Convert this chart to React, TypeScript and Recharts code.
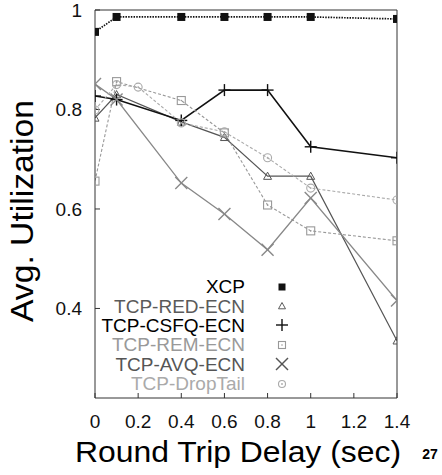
import React from 'react';
import { LineChart, Line, XAxis, YAxis, Legend } from 'recharts';

// Avg. utilization vs. round trip delay, six AQM schemes
const FONT = '"Liberation Sans", Arial, Helvetica, sans-serif';

const xTicks = [0, 0.2, 0.4, 0.6, 0.8, 1, 1.2, 1.4];
const yTicks = [0.4, 0.6, 0.8, 1];

const delays = [0, 0.1, 0.4, 0.6, 0.8, 1, 1.4];
const dropTailDelays = [0, 0.1, 0.2, 0.4, 0.6, 0.8, 1, 1.4];

const xcp = [0.956, 0.986, 0.986, 0.986, 0.986, 0.986, 0.982];
const redEcn = [0.783, 0.83, 0.775, 0.744, 0.666, 0.666, 0.335];
const csfqEcn = [0.827, 0.82, 0.778, 0.839, 0.839, 0.725, 0.703];
const remEcn = [0.656, 0.856, 0.818, 0.753, 0.608, 0.556, 0.536];
const avqEcn = [0.851, 0.82, 0.652, 0.59, 0.518, 0.622, 0.416];
const dropTail = [0.799, 0.85, 0.845, 0.773, 0.755, 0.703, 0.642, 0.618];

type Shape = 'filledSquare' | 'triangle' | 'plus' | 'square' | 'cross' | 'circle';

interface SeriesDef {
  name: string;
  xs: number[];
  ys: number[];
  stroke: string;
  width: number;
  dash?: string;
  shape: Shape;
  labelColor: string;
}

const series: SeriesDef[] = [
  { name: 'XCP', xs: delays, ys: xcp, stroke: '#111', width: 1.7, dash: '1.5 1.2', shape: 'filledSquare', labelColor: '#000' },
  { name: 'TCP-RED-ECN', xs: delays, ys: redEcn, stroke: '#555', width: 1.2, shape: 'triangle', labelColor: '#5a5a5a' },
  { name: 'TCP-CSFQ-ECN', xs: delays, ys: csfqEcn, stroke: '#111', width: 1.6, shape: 'plus', labelColor: '#000' },
  { name: 'TCP-REM-ECN', xs: delays, ys: remEcn, stroke: '#999', width: 1.1, dash: '3 2', shape: 'square', labelColor: '#999' },
  { name: 'TCP-AVQ-ECN', xs: delays, ys: avqEcn, stroke: '#888', width: 1.3, shape: 'cross', labelColor: '#555' },
  { name: 'TCP-DropTail', xs: dropTailDelays, ys: dropTail, stroke: '#aaa', width: 1.1, dash: '3 2', shape: 'circle', labelColor: '#aaa' },
];

function Marker({ shape, cx, cy, color, s }: { shape: Shape; cx: number; cy: number; color: string; s: number }) {
  const h = s / 2;
  switch (shape) {
    case 'filledSquare':
      return <rect x={cx - h} y={cy - h} width={s} height={s} fill="#111" />;
    case 'triangle':
      return (
        <polygon
          points={`${cx},${cy - h} ${cx - h},${cy + h * 0.8} ${cx + h},${cy + h * 0.8}`}
          fill="none"
          stroke={color}
          strokeWidth={1}
        />
      );
    case 'plus':
      return (
        <g stroke={color} strokeWidth={1.4}>
          <line x1={cx - h} y1={cy} x2={cx + h} y2={cy} />
          <line x1={cx} y1={cy - h} x2={cx} y2={cy + h} />
        </g>
      );
    case 'square':
      return (
        <g>
          <rect x={cx - h} y={cy - h} width={s} height={s} fill="none" stroke={color} strokeWidth={1.1} />
          <circle cx={cx} cy={cy} r={0.8} fill={color} />
        </g>
      );
    case 'cross':
      return (
        <g stroke={color} strokeWidth={1.4}>
          <line x1={cx - h} y1={cy - h} x2={cx + h} y2={cy + h} />
          <line x1={cx - h} y1={cy + h} x2={cx + h} y2={cy - h} />
        </g>
      );
    default:
      return (
        <g>
          <circle cx={cx} cy={cy} r={h} fill="none" stroke={color} strokeWidth={1.1} />
          <circle cx={cx} cy={cy} r={0.9} fill={color} />
        </g>
      );
  }
}

const markerSize: Record<Shape, number> = {
  filledSquare: 8,
  triangle: 8,
  plus: 12,
  square: 8,
  cross: 12,
  circle: 8,
};

const legendSize: Record<Shape, number> = {
  filledSquare: 7,
  triangle: 7,
  plus: 12,
  square: 7,
  cross: 12,
  circle: 7,
};

function XTitle() {
  return (
    <text
      x={238}
      y={462}
      textAnchor="middle"
      fontSize={29}
      fontFamily={FONT}
      fill="#000"
      textLength={326}
      lengthAdjust="spacingAndGlyphs"
    >
      Round Trip Delay (sec)
    </text>
  );
}

function YTitle() {
  return (
    <text
      x={0}
      y={0}
      transform="translate(33 211) rotate(-90)"
      textAnchor="middle"
      fontSize={31}
      fontFamily={FONT}
      fill="#000"
      textLength={222}
      lengthAdjust="spacingAndGlyphs"
    >
      Avg. Utilization
    </text>
  );
}

function PageNumber() {
  return (
    <text x={430} y={459} textAnchor="middle" fontSize={14} fontWeight="bold" fontFamily={FONT} fill="#000">
      27
    </text>
  );
}

// keep the legend in plotting order, not the order recharts hands back
function LegendBox() {
  return (
    <div style={{ fontFamily: FONT, fontSize: 19 }}>
      {series.map((def) => (
        <div key={def.name} style={{ display: 'flex', alignItems: 'center', height: 19.4 }}>
          <span style={{ width: 150, textAlign: 'right', color: def.labelColor, lineHeight: '19px', whiteSpace: 'nowrap' }}>
            {def.name}
          </span>
          <svg width={14} height={14} style={{ marginLeft: 30 }}>
            <Marker
              shape={def.shape}
              cx={7}
              cy={7}
              color={def.stroke === '#111' ? '#111' : def.labelColor}
              s={legendSize[def.shape]}
            />
          </svg>
        </div>
      ))}
    </div>
  );
}

export default function App() {
  const axisStroke = '#333';
  return (
    <div style={{ position: 'absolute', left: 0, top: 0, background: '#fff' }}>
      <LineChart width={442} height={475} margin={{ top: 9, right: 44, bottom: 37, left: 35 }}>
        <XAxis
          xAxisId="b"
          type="number"
          dataKey="x"
          domain={[0, 1.4]}
          ticks={xTicks}
          interval={0}
          allowDataOverflow
          height={40}
          tickSize={-5}
          tickMargin={22}
          stroke={axisStroke}
          tick={{ fill: '#111', fontSize: 19, fontFamily: FONT }}
          label={<XTitle />}
        />
        <XAxis
          xAxisId="t"
          orientation="top"
          type="number"
          dataKey="x"
          domain={[0, 1.4]}
          ticks={xTicks}
          interval={0}
          allowDataOverflow
          height={1}
          tickSize={-5}
          tick={false}
          stroke={axisStroke}
        />
        <YAxis
          yAxisId="l"
          type="number"
          domain={[0.22, 1]}
          ticks={yTicks}
          interval={0}
          allowDataOverflow
          width={60}
          tickSize={-5}
          tickMargin={18}
          stroke={axisStroke}
          tick={{ fill: '#111', fontSize: 19, fontFamily: FONT }}
          label={<YTitle />}
        />
        <YAxis
          yAxisId="r"
          orientation="right"
          type="number"
          domain={[0.22, 1]}
          ticks={yTicks}
          interval={0}
          allowDataOverflow
          width={1}
          tickSize={-5}
          tick={false}
          stroke={axisStroke}
          label={<PageNumber />}
        />
        {series.map((def) => (
          <Line
            key={def.name}
            name={def.name}
            xAxisId="b"
            yAxisId="l"
            data={def.xs.map((x, i) => ({ x, y: def.ys[i] }))}
            dataKey="y"
            type="linear"
            stroke={def.stroke}
            strokeWidth={def.width}
            strokeDasharray={def.dash}
            isAnimationActive={false}
            dot={(p: any) => (
              <Marker
                key={`${def.name}-${p.index}`}
                shape={def.shape}
                cx={p.cx}
                cy={p.cy}
                color={def.stroke}
                s={markerSize[def.shape]}
              />
            )}
            activeDot={false}
          />
        ))}
        <Legend
          layout="vertical"
          align="center"
          verticalAlign="middle"
          content={<LegendBox />}
          wrapperStyle={{ left: 95, top: 277, width: 200 }}
        />
      </LineChart>
    </div>
  );
}
